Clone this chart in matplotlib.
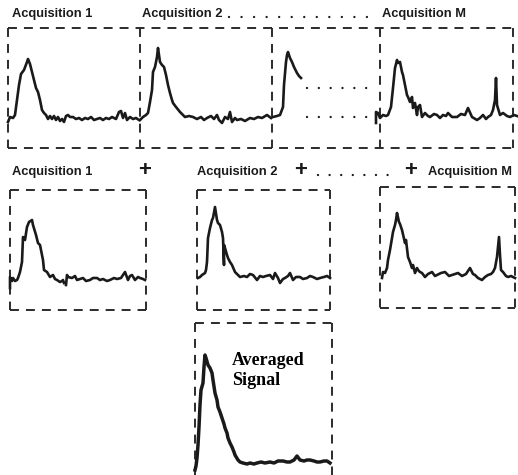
import numpy as np
import matplotlib
matplotlib.use('Agg')
import matplotlib.pyplot as plt

# signal traces: t = sample position (px from trace start),
# amp = height above the baseline (px)

# top row
top1_t = [0,2,5,7,9,11,13,16,19,20,22,24,26,28,30,32,34,36,38,40,42,44,46,48,50,52,54,56,58,60,
          62,65,68,71,74,77,80,83,86,89,92,95,98,101,104,108,111,113,115,117,119,122,125,128,131]
top1_amp = [-4,1,0,3,18,33,44,48,56,59,54,46,38,30,26,18,8,5,3,-1,2,-1,2,-2,1,-3,-1,-4,2,3,
            1,1,-1,0,-2,0,-1,1,-2,-1,0,-2,0,-1,1,-1,6,7,0,5,-2,1,-1,0,-2]

top2_t = [0,3,6,8,10,12,13,15,17,18,20,22,24,26,28,30,32,33,36,40,45,49,53,57,61,64,67,71,74,77,
          79,82,85,88,90,92,95,97,101,105,110,114,118,122,127,131]
top2_amp = [-3,0,2,4,15,27,45,50,60,69,55,52,50,42,32,24,17,14,10,5,0,1,0,-2,0,-3,-1,1,-2,2,
            -3,-6,0,-2,5,-5,-1,-3,-2,-4,-1,-2,0,-1,2,-1]

top3_t = [1,5,8,11,12,14,15,16,18,20,22,25,27,29]
top3_amp = [0,1,2,10,32,55,62,65,59,55,50,44,41,39]

topM_t = [0,0,2,4,7,10,12,15,17,19,21,22,24,26,27,29,31,32,34,36,37,39,41,42,44,46,49,52,54,58,
          61,64,67,70,72,76,81,85,89,92,96,101,104,107,110,112,115,117,119,120,121,124,127,131,134,138,141]
topM_amp = [-6,5,4,-1,2,1,2,10,29,49,57,54,55,45,42,32,22,20,15,20,9,14,2,10,12,0,4,1,0,3,
            2,-1,2,1,4,0,0,3,2,9,0,-3,-1,2,-2,0,2,7,17,39,12,2,4,1,0,2,1]

# middle row
mid1_t = [0,0,2,3,5,7,8,10,12,13,15,17,19,22,23,26,28,30,31,33,34,37,40,43,45,47,50,52,53,54,np.nan,
          56,57,58,62,65,67,70,73,76,80,83,87,90,93,97,100,104,107,111,115,118,120,122,125,128,130,133,135]
mid1_amp = [-8,3,-1,2,-1,0,2,8,18,43,40,53,58,60,55,45,37,35,30,20,10,8,3,5,1,0,-2,-1,0,-3,np.nan,
            -5,5,3,2,4,0,1,2,-1,0,2,2,0,1,-1,0,2,1,2,8,0,4,5,0,3,2,1,0]

mid2_t = [0,2,4,7,8,9,10,12,14,15,17,19,20,22,24,25,26,26,27,29,30,32,34,37,40,42,46,49,52,55,
          59,62,65,68,72,75,77,80,82,85,87,90,92,95,98,102,105,109,112,115,119,122,126,129,132]
mid2_amp = [0,1,3,5,8,16,40,50,58,60,71,58,55,53,46,40,13,33,30,23,20,16,13,6,3,1,2,1,4,3,
            -2,2,1,2,3,-1,5,0,-5,-1,0,2,5,-2,1,1,-1,0,2,1,-1,0,1,2,0]

midM_t = [0,1,3,5,6,8,11,13,14,15,17,18,20,23,24,26,28,30,31,33,35,36,38,40,43,46,50,53,55,59,
          63,67,70,73,76,80,84,88,91,93,96,100,103,106,109,111,113,115,117,118,119,121,124,126,129,133]
midM_amp = [-3,3,2,7,15,25,43,50,55,62,53,51,45,32,35,18,13,7,10,2,7,5,3,2,-2,1,3,-1,0,2,
            3,-1,0,1,2,-1,1,7,1,0,-3,-5,-2,0,1,3,7,18,38,20,5,3,-1,-2,-1,-3]

# averaged result
avg_t = [0,1,2,3,4,5,6,8,9,10,11,13,15,17,18,20,22,23,25,27,29,30,32,33,35,37,39,40,43,45,
         48,52,55,59,62,66,70,75,79,83,88,92,95,99,102,105,109,112,115,119,122,125,129,132,135]
avg_amp = [-7,-3,5,18,36,58,73,80,96,108,105,98,95,90,83,70,63,56,51,45,39,35,30,25,20,16,11,8,3,1,
           0,-1,0,-1,0,1,0,1,0,2,2,1,1,3,7,3,2,3,3,2,1,1,2,2,0]

ink = '#1a1a1a'
box_col = '#2b2b2b'
lab_font = 'Liberation Sans'

fig = plt.figure(figsize=(5.18, 4.75), dpi=100)
ax = fig.add_axes([0, 0, 1, 1])
ax.set_xlim(0, 518)
ax.set_ylim(475, 0)
ax.axis('off')


def trace(t, amp, x0, base, lw=1.9):
    x = x0 + np.array(t, dtype=float)
    y = base - np.array(amp, dtype=float)
    ax.plot(x, y, color=ink, lw=lw, solid_joinstyle='round')


def dashed(xs, ys):
    ax.plot(xs, ys, color=box_col, lw=1.4, linestyle=(0, (4.6, 3.6)))


def dotted(x1, x2, y, gap=5.6):
    ax.plot([x1, x2], [y, y], color=ink, lw=1.7, linestyle=(0, (0.01, gap)),
            dash_capstyle='round')


def label(x, y, s):
    ax.text(x, y, s, fontsize=9.3, fontweight='bold', family=lab_font,
            color=ink, va='center', ha='left')


def plus(x, y):
    ax.text(x, y, '+', fontsize=16, fontweight='bold', family=lab_font,
            color=ink, va='center', ha='center')


# --- top row boxes
dashed([8, 513], [28, 28])
dashed([8, 513], [148, 148])
for xv in [8, 140, 272, 380, 513]:
    dashed([xv, xv], [28, 148])

trace(top1_t, top1_amp, 8, 118)
trace(top2_t, top2_amp, 140, 117)
trace(top3_t, top3_amp, 272, 117)
trace(topM_t, topM_amp, 376, 117)
dotted(307, 370, 88, gap=5.0)
dotted(307, 370, 117, gap=5.0)

label(12, 14, 'Acquisition 1')
label(142, 14, 'Acquisition 2')
dotted(229, 369, 17, gap=5.3)
label(382, 14, 'Acquisition M')

# --- middle row boxes
for (l, r, t, b) in [(10, 146, 190, 310), (197, 330, 190, 310), (380, 515, 187, 308)]:
    dashed([l, r], [t, t])
    dashed([l, r], [b, b])
    dashed([l, l], [t, b])
    dashed([r, r], [t, b])

trace(mid1_t, mid1_amp, 10, 280)
trace(mid2_t, mid2_amp, 198, 278)
trace(midM_t, midM_amp, 382, 275)

label(12, 172, 'Acquisition 1')
plus(145, 170)
label(197, 172, 'Acquisition 2')
plus(301, 170)
dotted(318, 396, 175, gap=4.9)
plus(411, 170)
label(428, 172, 'Acquisition M')

# --- averaged box (runs off the bottom)
dashed([195, 332], [323, 323])
dashed([195, 195], [323, 480])
dashed([332, 332], [323, 480])
trace(avg_t, avg_amp, 195, 463, lw=2.5)
ax.text(232, 352, 'Averaged\nSignal', fontsize=13, fontweight='bold', family='Liberation Serif',
        color='black', va='top', ha='left', linespacing=1.25)

fig.savefig('out.png', dpi=100, facecolor='white')
